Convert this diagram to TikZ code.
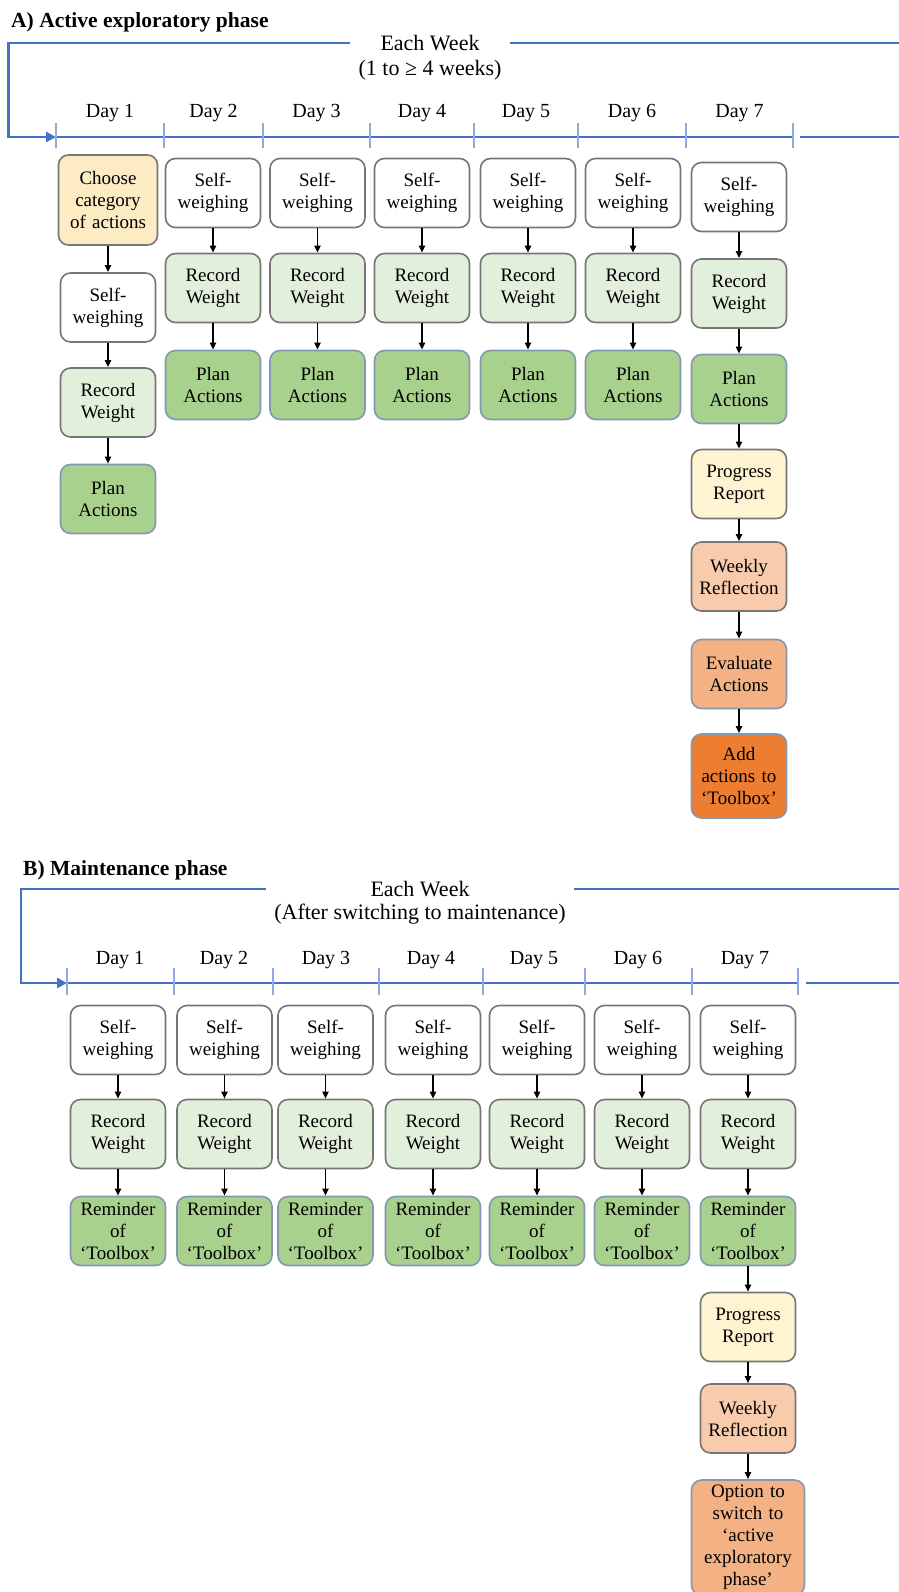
\documentclass[tikz,border=0pt]{standalone}
\usepackage{fontspec}
\setmainfont{Liberation Serif}
\usetikzlibrary{arrows.meta}

\definecolor{weekblue}{HTML}{4472C4}
\definecolor{tickblue}{HTML}{8FAADC}
\definecolor{edgegray}{HTML}{767676}
\definecolor{edgeblue}{HTML}{8497B0}
\definecolor{choosefill}{HTML}{FCEBC3}
\definecolor{progfill}{HTML}{FFF4D1}
\definecolor{recfill}{HTML}{E2EFDA}
\definecolor{planfill}{HTML}{A9D18E}
\definecolor{reflfill}{HTML}{F8CBAD}
\definecolor{evalfill}{HTML}{F4B183}
\definecolor{addfill}{HTML}{ED7D31}

\tikzset{
  box/.style={draw=edgegray, line width=1.6pt, rounded corners=10pt, align=center,
    minimum width=95pt, minimum height=69pt, inner sep=0pt, text width=93pt,
    font=\fontsize{19}{22}\selectfont},
  weigh/.style={box, fill=white},
  record/.style={box, fill=recfill},
  plan/.style={box, fill=planfill, draw=edgeblue},
  choose/.style={box, fill=choosefill, minimum width=99pt, minimum height=90pt},
  progress/.style={box, fill=progfill},
  reflect/.style={box, fill=reflfill},
  evaluate/.style={box, fill=evalfill, draw=edgeblue},
  addbox/.style={box, fill=addfill, draw=edgeblue, minimum height=84pt},
  option/.style={box, fill=evalfill, draw=edgeblue, minimum width=113pt,
    text width=111pt, minimum height=115pt},
  flow/.style={line width=1.7pt, -{Triangle[length=7pt,width=6pt]}},
  weekline/.style={draw=weekblue, line width=2.6pt},
  daytick/.style={draw=tickblue, line width=1.4pt},
  daylabel/.style={font=\fontsize{20}{24}\selectfont, inner sep=0pt},
  weeklabel/.style={font=\fontsize{22}{25}\selectfont, inner sep=0pt},
  weeksub/.style={weeklabel, inner xsep=8pt},
  phasetitle/.style={font=\fontsize{21.5}{26}\selectfont\bfseries, inner sep=0pt, anchor=west}
}

\begin{document}
\begin{tikzpicture}[x=1pt, y=-1pt]
\clip (0,0) rectangle (899,1592);

% A) active exploratory phase
\node[phasetitle] (titleA) at (11,22) {A) Active exploratory phase};
\node[weeklabel] (weekA) at (430,43) {Each Week};
\node[weeksub] (subA) at (430,70) {(1 to ≥ 4 weeks)};
\coordinate (cornerA) at (8.3,137);
\coordinate (startA) at (56,137);
\coordinate (endA) at (793,137);
\coordinate (tailA) at (800,137);
\coordinate (rimA) at (905,137);
\coordinate (rimtopA) at (905,43);
\draw[weekline] (startA) -- (endA);
\draw[weekline] (tailA) -- (rimA);
\draw[weekline] (subA.east |- weekA) -- (rimtopA);
\draw[weekline, -{Triangle[length=10pt,width=10pt]}] (subA.west |- weekA) -| (cornerA) -- (startA);
\foreach \x in {56,164,263,370,474,578,686,793}
  \draw[daytick] (\x,123) -- (\x,148);
\foreach \i/\x in {1/110,2/213.5,3/316.5,4/422,5/526,6/632,7/739.5}
  \node[daylabel] (dayA\i) at (\x,113) {Day \i};

\node[choose] (chooseA) at (108,200) {Choose\\category\\of actions};
\node[weigh] (selfA1) at (108,307.5) {Self-\\weighing};
\node[record] (recA1) at (108,402.5) {Record\\Weight};
\node[plan] (planA1) at (108,499) {Plan\\Actions};
\draw[flow] (chooseA) -- (selfA1);
\draw[flow] (selfA1) -- (recA1);
\draw[flow] (recA1) -- (planA1);

\foreach \i/\x in {2/213,3/317.5,4/422,5/528,6/633}{
  \node[weigh] (selfA\i) at (\x,193) {Self-\\weighing};
  \node[record] (recA\i) at (\x,288) {Record\\Weight};
  \node[plan] (planA\i) at (\x,385) {Plan\\Actions};
  \draw[flow] (selfA\i) -- (recA\i);
  \draw[flow] (recA\i) -- (planA\i);
}

\node[weigh] (selfA7) at (739,197) {Self-\\weighing};
\node[record] (recA7) at (739,293.5) {Record\\Weight};
\node[plan] (planA7) at (739,389) {Plan\\Actions};
\node[progress] (progA) at (739,484) {Progress\\Report};
\node[reflect] (reflA) at (739,576.5) {Weekly\\Reflection};
\node[evaluate] (evalA) at (739,674) {Evaluate\\Actions};
\node[addbox] (addA) at (739,776) {Add\\actions to\\‘Toolbox’};
\draw[flow] (selfA7) -- (recA7);
\draw[flow] (recA7) -- (planA7);
\draw[flow] (planA7) -- (progA);
\draw[flow] (progA) -- (reflA);
\draw[flow] (reflA) -- (evalA);
\draw[flow] (evalA) -- (addA);

% B) maintenance phase
\node[phasetitle] (titleB) at (23,870) {B) Maintenance phase};
\node[weeklabel] (weekB) at (420,889) {Each Week};
\node[weeksub] (subB) at (420,914) {(After switching to maintenance)};
\coordinate (cornerB) at (21,983);
\coordinate (startB) at (67,983);
\coordinate (endB) at (798,983);
\coordinate (tailB) at (806,983);
\coordinate (rimB) at (905,983);
\coordinate (rimtopB) at (905,889);
\draw[weekline] (startB) -- (endB);
\draw[weekline] (tailB) -- (rimB);
\draw[weekline] (subB.east |- weekB) -- (rimtopB);
\draw[weekline, -{Triangle[length=10pt,width=10pt]}] (subB.west |- weekB) -| (cornerB) -- (startB);
\foreach \x in {67,174,273,379,483,585,692,798}
  \draw[daytick] (\x,968) -- (\x,995);
\foreach \i/\x in {1/120,2/224,3/326,4/431,5/534,6/638,7/745}
  \node[daylabel] (dayB\i) at (\x,960) {Day \i};

\foreach \i/\x in {1/118,2/224.5,3/325.5,4/433,5/537,6/642,7/748}{
  \node[weigh] (selfB\i) at (\x,1040) {Self-\\weighing};
  \node[record] (recB\i) at (\x,1134) {Record\\Weight};
  \node[plan] (remB\i) at (\x,1231) {Reminder\\of\\‘Toolbox’};
  \draw[flow] (selfB\i) -- (recB\i);
  \draw[flow] (recB\i) -- (remB\i);
}

\node[progress] (progB) at (748,1327) {Progress\\Report};
\node[reflect] (reflB) at (748,1418.5) {Weekly\\Reflection};
\node[option] (optB) at (748,1537.5) {Option to\\switch to\\‘active\\exploratory\\phase’};
\draw[flow] (remB7) -- (progB);
\draw[flow] (progB) -- (reflB);
\draw[flow] (reflB) -- (optB);
\end{tikzpicture}
\end{document}
